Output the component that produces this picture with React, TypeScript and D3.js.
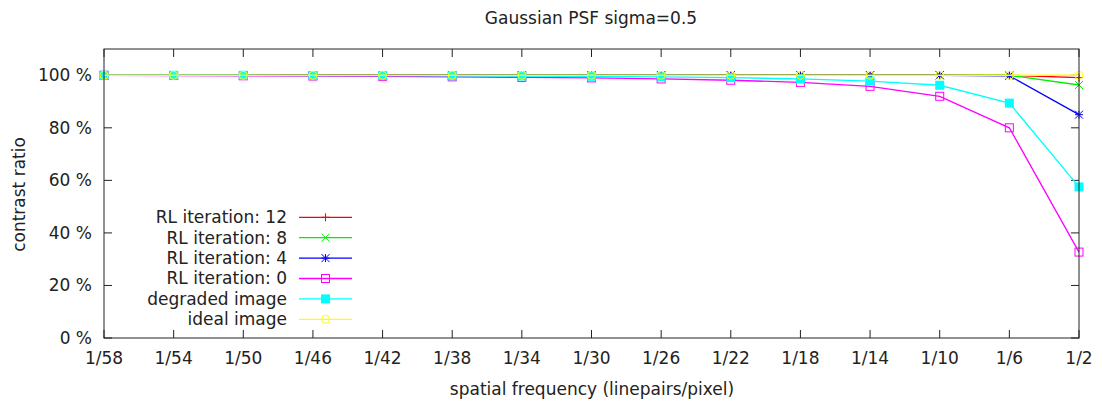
import React from "react";
import * as d3 from "d3";

const categories = ["1/58","1/54","1/50","1/46","1/42","1/38","1/34","1/30","1/26","1/22","1/18","1/14","1/10","1/6","1/2"];
const rl12 = [100,100,100,100,100,100,100,100,100,100,100,100,100,100,99.1];
const rl8 = [100,100,100,100,100,100,100,100,100,100,100,100,100,100,96.3];
const rl4 = [100,100,100,100,100,100,100,100,100,100,100,100,100,99.8,85.0];
const rl0 = [100,99.9,99.8,99.7,99.6,99.4,99.2,99.0,98.6,98.1,97.3,95.8,92.0,80.0,32.7];
const degraded = [100,100,100,99.9,99.9,99.8,99.7,99.6,99.4,99.1,98.6,97.8,96.2,89.4,57.5];
const ideal = [100,100,100,100,100,100,100,100,100,100,100,100,100,100,100];
const yTicks = [0,20,40,60,80,100];

const series = [
  { name: "RL iteration: 12", values: rl12, color: "#ff0000", marker: "plus" },
  { name: "RL iteration: 8", values: rl8, color: "#00ee00", marker: "cross" },
  { name: "RL iteration: 4", values: rl4, color: "#0000ff", marker: "star" },
  { name: "RL iteration: 0", values: rl0, color: "#ff00ff", marker: "box" },
  { name: "degraded image", values: degraded, color: "#00ffff", marker: "fbox" },
  { name: "ideal image", values: ideal, color: "#ffff00", marker: "circle" },
];

const W = 1103, H = 402;
const left = 104, right = 1079, top = 49, bottom = 338;
const font = "'DejaVu Sans', sans-serif";
const fs = 17;

function Marker({ type, x, y, color }: { type: string; x: number; y: number; color: string }) {
  const s = 4;
  switch (type) {
    case "plus":
      return <path d={`M${x - s},${y}H${x + s}M${x},${y - s}V${y + s}`} stroke={color} strokeWidth={1} fill="none" />;
    case "cross":
      return <path d={`M${x - s},${y - s}L${x + s},${y + s}M${x - s},${y + s}L${x + s},${y - s}`} stroke={color} strokeWidth={1} fill="none" />;
    case "star":
      return <path d={`M${x - s},${y}H${x + s}M${x},${y - s}V${y + s}M${x - s},${y - s}L${x + s},${y + s}M${x - s},${y + s}L${x + s},${y - s}`} stroke={color} strokeWidth={1} fill="none" />;
    case "box":
      return <rect x={x - s} y={y - s} width={2 * s} height={2 * s} stroke={color} strokeWidth={1} fill="none" />;
    case "fbox":
      return <rect x={x - s - 0.5} y={y - s - 0.5} width={2 * s + 1} height={2 * s + 1} fill={color} />;
    case "circle":
      return <circle cx={x} cy={y} r={s} stroke={color} strokeWidth={1} fill="none" />;
  }
  return null;
}

export default function App() {
  const x = d3.scalePoint<string>().domain(categories).range([left, right]).padding(0);
  const y = d3.scaleLinear().domain([0, 110]).range([bottom, top]);
  const line = d3.line<number>().x((_, i) => x(categories[i])!).y((d) => y(d));
  const tl = 8;
  const legX1 = 299, legX2 = 352, legTextX = 287, legY0 = 217.3, legDy = 20.4;
  return (
    <svg width={W} height={H} style={{ position: "absolute", left: 0, top: 0, background: "#fff" }} fontFamily={font}>
      <rect x={0} y={0} width={W} height={H} fill="#fff" />
      <text x={591} y={24} textAnchor="middle" fontSize={fs} fill="#222">Gaussian PSF sigma=0.5</text>
      {categories.map((c) => (
        <g key={c}>
          <line x1={x(c)} x2={x(c)} y1={bottom} y2={bottom - tl} stroke="#222" />
          <line x1={x(c)} x2={x(c)} y1={top} y2={top + tl} stroke="#222" />
          <text x={x(c)} y={364} textAnchor="middle" fontSize={fs} fill="#222">{c}</text>
        </g>
      ))}
      {yTicks.map((t) => (
        <g key={t}>
          <line x1={left} x2={left + tl} y1={y(t)} y2={y(t)} stroke="#222" />
          <line x1={right} x2={right - tl} y1={y(t)} y2={y(t)} stroke="#222" />
          <text x={92} y={y(t)} dy="0.35em" textAnchor="end" fontSize={fs} fill="#222">{`${t} %`}</text>
        </g>
      ))}
      <text x={592} y={395} textAnchor="middle" fontSize={fs} fill="#222">spatial frequency (linepairs/pixel)</text>
      <text transform={`translate(25,${(top + bottom) / 2 + 1}) rotate(-90)`} textAnchor="middle" fontSize={fs} fill="#222">contrast ratio</text>
      {series.map((s, i) => {
        const ly = legY0 + i * legDy;
        return (
          <g key={s.name}>
            <text x={legTextX} y={ly} dy="0.35em" textAnchor="end" fontSize={fs} fill="#222">{s.name}</text>
            <line x1={legX1} x2={legX2} y1={ly} y2={ly} stroke={s.color} strokeWidth={1.3} />
            <Marker type={s.marker} x={(legX1 + legX2) / 2} y={ly} color={s.color} />
          </g>
        );
      })}
      {series.map((s) => (
        <g key={s.name}>
          <path d={line(s.values)!} fill="none" stroke={s.color} strokeWidth={1.3} />
          {s.values.map((v, i) => (
            <Marker key={i} type={s.marker} x={x(categories[i])!} y={y(v)} color={s.color} />
          ))}
        </g>
      ))}
      <rect x={left} y={top} width={right - left} height={bottom - top} fill="none" stroke="#222" strokeWidth={1} />
    </svg>
  );
}
